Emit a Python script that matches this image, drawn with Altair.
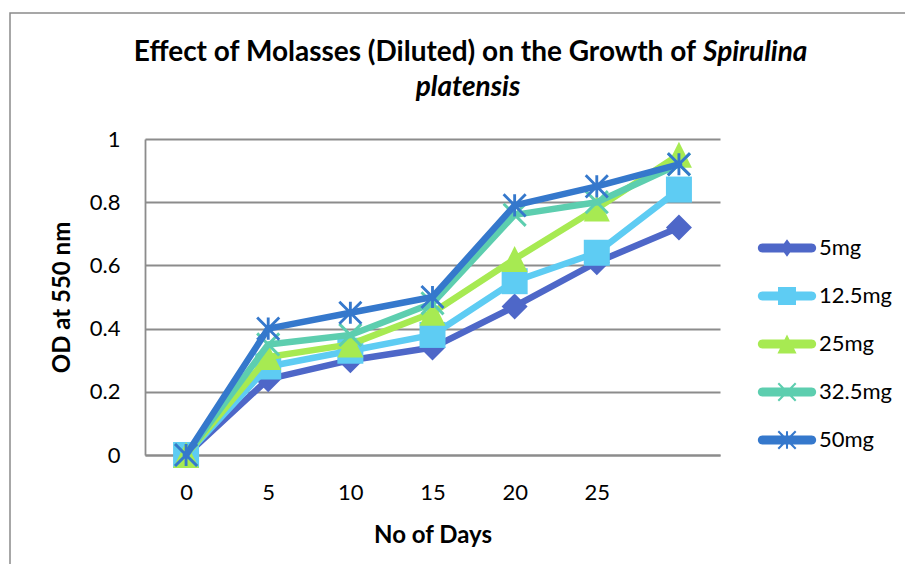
import math
import altair as alt
import pandas as pd

# ---- data ----
days = [0, 5, 10, 15, 20, 25, 30]
series_names = ["5mg", "12.5mg", "25mg", "32.5mg", "50mg"]
od_5mg = [0, 0.24, 0.30, 0.34, 0.47, 0.61, 0.72]
od_12_5mg = [0, 0.28, 0.33, 0.38, 0.55, 0.64, 0.84]
od_25mg = [0, 0.31, 0.35, 0.45, 0.62, 0.78, 0.95]
od_32_5mg = [0, 0.35, 0.38, 0.48, 0.76, 0.80, 0.92]
od_50mg = [0, 0.40, 0.45, 0.50, 0.79, 0.85, 0.92]
colors = ["#4E67C8", "#5ECCF3", "#A7EA52", "#5DCEAF", "#3578CC"]
y_ticks = [0, 0.2, 0.4, 0.6, 0.8, 1.0]

all_series = [od_5mg, od_12_5mg, od_25mg, od_32_5mg, od_50mg]
rows = []
for name, vals in zip(series_names, all_series):
    for d, v in zip(days, vals):
        rows.append({"day": d, "series": name, "od": v})
df = pd.DataFrame(rows)
one = pd.DataFrame({"k": [0]})


# ---- marker shapes (unit box -1..1) ----
def f(v):
    return f"{v:.3f}"


def poly(pts):
    # force one winding direction so overlapping parts never cancel out
    area = 0.0
    for i in range(len(pts)):
        x1, y1 = pts[i]
        x2, y2 = pts[(i + 1) % len(pts)]
        area += x1 * y2 - x2 * y1
    if area < 0:
        pts = pts[::-1]
    return "M" + "L".join(f"{f(x)},{f(y)}" for x, y in pts) + "Z"


def bar(x1, y1, x2, y2, w):
    dx, dy = x2 - x1, y2 - y1
    L = math.hypot(dx, dy)
    nx, ny = -dy / L * w, dx / L * w
    return poly([(x1 + nx, y1 + ny), (x2 + nx, y2 + ny), (x2 - nx, y2 - ny), (x1 - nx, y1 - ny)])


def diamond(hw, hh):
    return poly([(0, -hh), (hw, 0), (0, hh), (-hw, 0)])


def square(h):
    return poly([(-h, -h), (h, -h), (h, h), (-h, h)])


def triangle(h):
    return poly([(0, -h), (h, h), (-h, h)])


def xcross(a, w):
    return bar(-a, -a, a, a, w) + bar(-a, a, a, -a, w)


def star(a, w):
    return xcross(a, w) + bar(0, -a, 0, a, w)


def round_bar(half_len, t):
    pts = []
    for i in range(0, 13):
        ang = -math.pi / 2 + math.pi * i / 12
        pts.append((half_len + t * math.cos(ang), t * math.sin(ang)))
    for i in range(0, 13):
        ang = math.pi / 2 + math.pi * i / 12
        pts.append((-half_len + t * math.cos(ang), t * math.sin(ang)))
    return poly(pts)


plot_shapes = [
    diamond(1, 1),
    square(1),
    triangle(1),
    xcross(0.85, 0.115),
    star(0.85, 0.11),
]
lb = round_bar(0.85, 0.155)
legend_shapes = [
    lb + diamond(0.22, 0.3),
    lb + square(0.31),
    lb + triangle(0.33),
    lb + xcross(0.3, 0.035),
    lb + star(0.3, 0.035),
]

FONT = "Lato"
GRID = "#8c8c8c"

x_enc = alt.X(
    "day:O",
    scale=alt.Scale(type="point", padding=0.5),
    axis=alt.Axis(
        labelExpr="datum.value == 30 ? '' : datum.label",
        labelAngle=0,
        ticks=False,
        tickSize=0,
        grid=False,
        domainColor=GRID,
        domainWidth=1.8,
        labelPadding=27,
        labelFont=FONT,
        labelFontSize=22,
        labelColor="black",
        title="No of Days",
        titleFont=FONT,
        titleFontSize=24,
        titleFontWeight="bold",
        titleColor="black",
        titleY=80,
        titleBaseline="middle",
    ),
)
y_enc = alt.Y(
    "od:Q",
    scale=alt.Scale(domain=[0, 1]),
    axis=alt.Axis(
        values=y_ticks,
        format="~g",
        grid=True,
        gridColor=GRID,
        gridWidth=1.8,
        domainColor=GRID,
        domainWidth=1.8,
        ticks=False,
        tickSize=0,
        labelPadding=25,
        labelFont=FONT,
        labelFontSize=22,
        labelColor="black",
        title="OD at 550 nm",
        titleFont=FONT,
        titleFontSize=24,
        titleFontWeight="bold",
        titleColor="black",
        titleX=-83,
        titleY=158,
        titleBaseline="middle",
    ),
)
color_nolegend = alt.Color(
    "series:N", scale=alt.Scale(domain=series_names, range=colors), legend=None
)

base = alt.Chart(df)
layers = []

border = alt.Chart(one).mark_rect(fillOpacity=0, stroke="#8a8a8a", strokeWidth=1.5).encode(
    x=alt.value(-135), x2=alt.value(2000), y=alt.value(-126), y2=alt.value(2000)
)
layers.append(border)

for name in series_names:
    sub = base.transform_filter(alt.datum.series == name)
    line = sub.mark_line(strokeWidth=6.5, strokeJoin="round", strokeCap="round").encode(
        x=x_enc, y=y_enc, color=color_nolegend
    )
    pts = sub.mark_point(filled=True, size=676, opacity=1, strokeWidth=0).encode(
        x=x_enc,
        y=y_enc,
        color=color_nolegend,
        shape=alt.Shape(
            "series:N", scale=alt.Scale(domain=series_names, range=plot_shapes), legend=None
        ),
    )
    layers += [line, pts]

legend_props = dict(
    title=None,
    orient="none",
    legendX=613,
    legendY=80,
    padding=0,
    labelFont=FONT,
    labelFontSize=22,
    labelColor="black",
    labelOffset=3,
    rowPadding=8,
    symbolSize=3364,
    symbolStrokeWidth=0,
    symbolOpacity=1,
)
legend_layer = base.mark_point(filled=True, opacity=0).encode(
    x=x_enc,
    y=y_enc,
    color=alt.Color(
        "series:N",
        scale=alt.Scale(domain=series_names, range=colors),
        legend=alt.Legend(**legend_props),
    ),
    shape=alt.Shape(
        "series:N",
        scale=alt.Scale(domain=series_names, range=legend_shapes),
        legend=alt.Legend(**legend_props),
    ),
)
layers.append(legend_layer)

# ---- title (mixed upright / italic) ----
title_1a = "Effect of Molasses (Diluted) on the Growth of"
title_1b = "Spirulina"
title_2 = "platensis"
TS = 28
t1a = alt.Chart(one).mark_text(
    text=title_1a, align="right", baseline="middle", font=FONT, fontSize=TS,
    fontWeight="bold", color="black",
).encode(x=alt.value(551), y=alt.value(-86))
t1b = alt.Chart(one).mark_text(
    text=title_1b, align="left", baseline="middle", font=FONT, fontSize=TS,
    fontWeight="bold", fontStyle="italic", color="black",
).encode(x=alt.value(558), y=alt.value(-86))
t2 = alt.Chart(one).mark_text(
    text=title_2, align="center", baseline="middle", font=FONT, fontSize=TS,
    fontWeight="bold", fontStyle="italic", color="black",
).encode(x=alt.value(323), y=alt.value(-51))
layers += [t1a, t1b, t2]

chart = (
    alt.layer(*layers)
    .resolve_scale(color="independent", shape="independent")
    .properties(
        width=575,
        height=316,
        autosize=alt.AutoSizeParams(type="none"),
        padding={"left": 137, "top": 131, "right": 185, "bottom": 109},
        background="white",
    )
    .configure_view(stroke=None)
)

chart.save("out.html", embed_options={"renderer": "svg", "actions": False})
